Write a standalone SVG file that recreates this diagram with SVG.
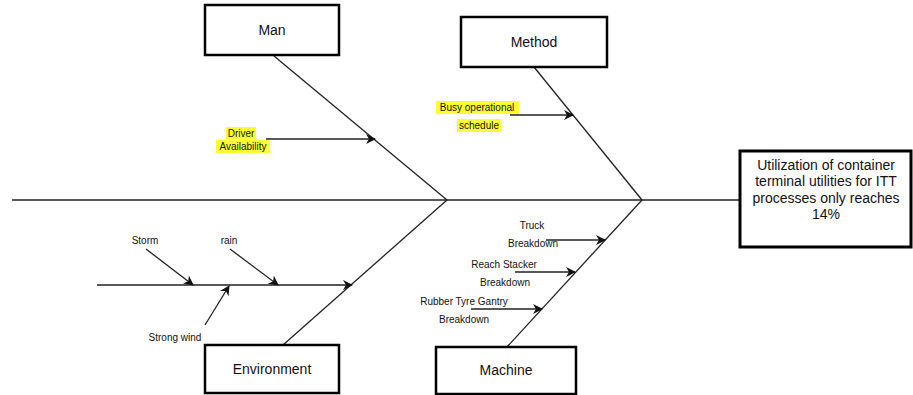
<svg xmlns="http://www.w3.org/2000/svg" width="913" height="395" viewBox="0 0 913 395">
<style>
.box{fill:#fff;stroke:#000;stroke-width:2.5}
.bt{font-family:"Liberation Sans",Arial,sans-serif;font-size:14px;fill:#111;text-anchor:middle}
.lt{font-family:"Liberation Sans",Arial,sans-serif;font-size:10px;fill:#111;text-anchor:middle}
.ln{stroke:#222;stroke-width:1.3;fill:none}
.ar{stroke:#222;stroke-width:1.3;fill:none;marker-end:url(#ah)}
.hl{fill:#ffff33}
</style>
<defs>
<marker id="ah" viewBox="0 0 10 10" refX="9" refY="5" markerWidth="10" markerHeight="10" markerUnits="userSpaceOnUse" orient="auto">
<path d="M0,0 L10,5 L0,10 L3,5 z" fill="#111"/>
</marker>
</defs>
<rect width="913" height="395" fill="#fff"/>
<g id="connectors">
<line class="ln" x1="12" y1="200" x2="740" y2="200"/>
<line class="ln" x1="274" y1="56" x2="447" y2="200"/>
<line class="ln" x1="447" y1="200" x2="283" y2="345"/>
<line class="ln" x1="534" y1="67" x2="642" y2="200"/>
<line class="ln" x1="642" y1="200" x2="507" y2="347"/>
<line class="ar" x1="266" y1="139" x2="375" y2="139"/>
<line class="ar" x1="510" y1="115" x2="573" y2="115"/>
<line class="ar" x1="97" y1="285" x2="352" y2="285"/>
<line class="ar" x1="146" y1="249" x2="193" y2="285"/>
<line class="ar" x1="230" y1="249" x2="278" y2="285"/>
<line class="ar" x1="205" y1="325" x2="229" y2="286"/>
<line class="ar" x1="546" y1="240" x2="605" y2="240"/>
<line class="ar" x1="515" y1="272" x2="575" y2="272"/>
<line class="ar" x1="471" y1="309" x2="542" y2="309"/>
</g>
<g id="man"><rect class="box" x="205" y="5" width="134" height="50"/><text class="bt" x="272" y="35">Man</text></g>
<g id="method"><rect class="box" x="461" y="17" width="146" height="50"/><text class="bt" x="534" y="47">Method</text></g>
<g id="environment"><rect class="box" x="205" y="345" width="134" height="48"/><text class="bt" x="272" y="374">Environment</text></g>
<g id="machine"><rect class="box" x="436" y="347" width="140" height="47"/><text class="bt" x="506" y="375">Machine</text></g>
<g id="effect"><rect x="740" y="151" width="171" height="96" fill="#fff" stroke="#000" stroke-width="3"/>
<text class="bt" x="826" y="170">Utilization of container</text>
<text class="bt" x="826" y="186">terminal utilities for ITT</text>
<text class="bt" x="826" y="203">processes only reaches</text>
<text class="bt" x="826" y="219">14%</text></g>
<g id="driver"><rect class="hl" x="226" y="127" width="30" height="12"/><rect class="hl" x="216" y="140" width="54" height="13"/>
<text class="lt" x="241" y="137">Driver</text><text class="lt" x="243" y="150">Availability</text></g>
<g id="busy"><rect class="hl" x="436" y="101" width="83" height="13"/><rect class="hl" x="457" y="119" width="44" height="13"/>
<text class="lt" x="477" y="111">Busy operational</text><text class="lt" x="479" y="129">schedule</text></g>
<g id="storm"><text class="lt" x="145" y="244">Storm</text></g>
<g id="rain"><text class="lt" x="229" y="244">rain</text></g>
<g id="strongwind"><text class="lt" x="175" y="341">Strong wind</text></g>
<g id="truck"><text class="lt" x="532" y="229">Truck</text><text class="lt" x="533" y="247">Breakdown</text></g>
<g id="reachstacker"><text class="lt" x="504" y="268">Reach Stacker</text><text class="lt" x="505" y="286">Breakdown</text></g>
<g id="rtg"><text class="lt" x="464" y="305">Rubber Tyre Gantry</text><text class="lt" x="464" y="323">Breakdown</text></g>
</svg>
